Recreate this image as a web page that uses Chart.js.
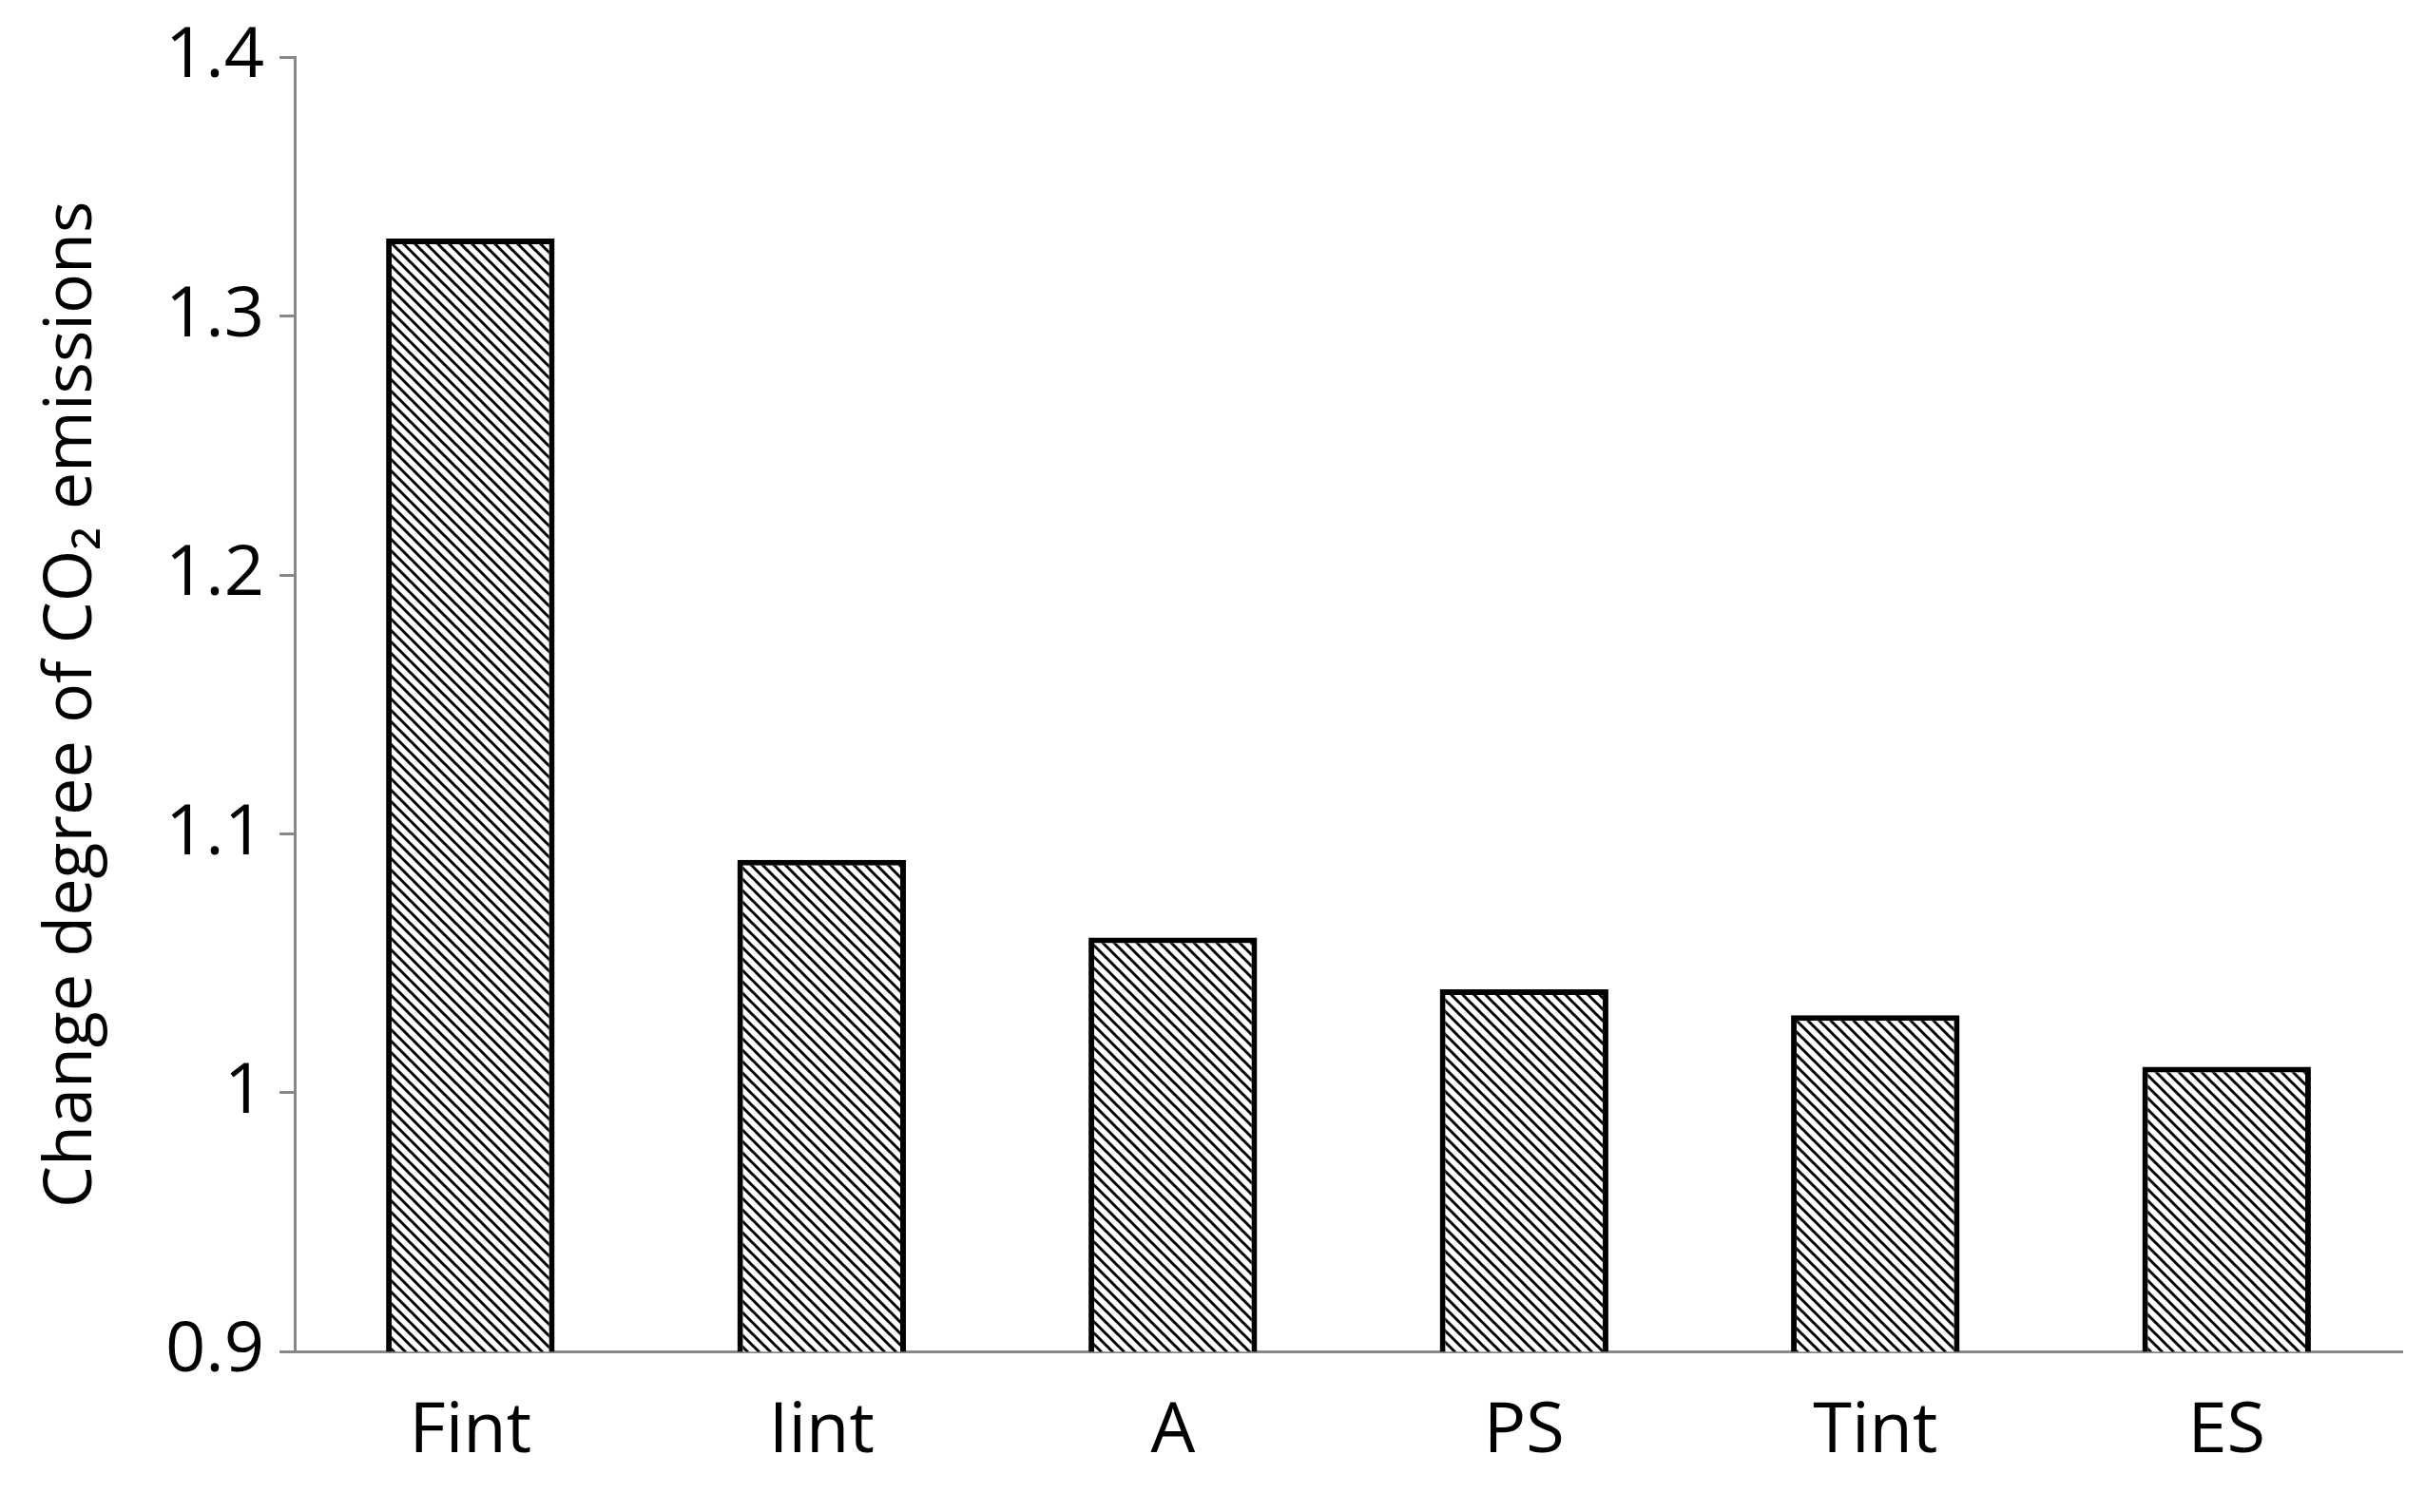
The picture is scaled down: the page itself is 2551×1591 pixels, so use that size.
<!DOCTYPE html>
<html><head><meta charset="utf-8">
<script src="https://cdn.jsdelivr.net/npm/chart.js@4.4.1/dist/chart.umd.min.js"></script>
<style>html,body{margin:0;padding:0;background:#fff}#wrap{width:2551px;height:1591px}</style>
</head><body>
<div id="wrap"><canvas id="c"></canvas></div>
<script>
const categories = ['Fint', 'Iint', 'A', 'PS', 'Tint', 'ES']
const values = [1.33, 1.09, 1.06, 1.04, 1.03, 1.01]
const yTicks = [0.9, 1, 1.1, 1.2, 1.3, 1.4]

const makeHatch = () => {
  const p = document.createElement('canvas')
  p.width = p.height = 12
  const g = p.getContext('2d')
  g.fillStyle = '#fff'
  g.fillRect(0, 0, 12, 12)
  g.strokeStyle = '#000'
  g.lineWidth = 3
  g.beginPath()
  g.moveTo(-3, -3); g.lineTo(15, 15)
  g.moveTo(-3, 9); g.lineTo(3, 15)
  g.moveTo(9, -3); g.lineTo(15, 3)
  g.stroke()
  return document.getElementById('c').getContext('2d').createPattern(p, 'repeat')
}

const font = { family: "'Open Sans', 'Liberation Sans', sans-serif", size: 74 }

new Chart(document.getElementById('c').getContext('2d'), {
  type: 'bar',
  data: {
    labels: categories,
    datasets: [{
      data: values,
      backgroundColor: makeHatch(),
      borderColor: '#000',
      borderWidth: 6,
      borderSkipped: 'bottom',
      barPercentage: 0.48,
      categoryPercentage: 1
    }]
  },
  options: {
    responsive: true,
    maintainAspectRatio: false,
    animation: false,
    layout: { padding: { top: 40, right: 24, left: 30, bottom: 0 } },
    plugins: { legend: { display: false }, tooltip: { enabled: false } },
    scales: {
      x: {
        grid: { display: false, drawTicks: false },
        border: { color: '#888', width: 3 },
        ticks: { color: '#000', font, padding: 40 }
      },
      y: {
        min: 0.9, max: 1.4,
        afterBuildTicks: s => { s.ticks = yTicks.map(v => ({ value: v })) },
        grid: { display: true, drawOnChartArea: false, tickLength: 16, color: '#888', lineWidth: 3 },
        border: { color: '#888', width: 3 },
        ticks: { color: '#000', font, padding: 16, callback: v => String(v) },
        title: { display: true, text: 'Change degree of CO₂ emissions', color: '#000', font: { ...font, size: 70 }, padding: { bottom: 40 } }
      }
    }
  }
})
</script>
</body></html>
